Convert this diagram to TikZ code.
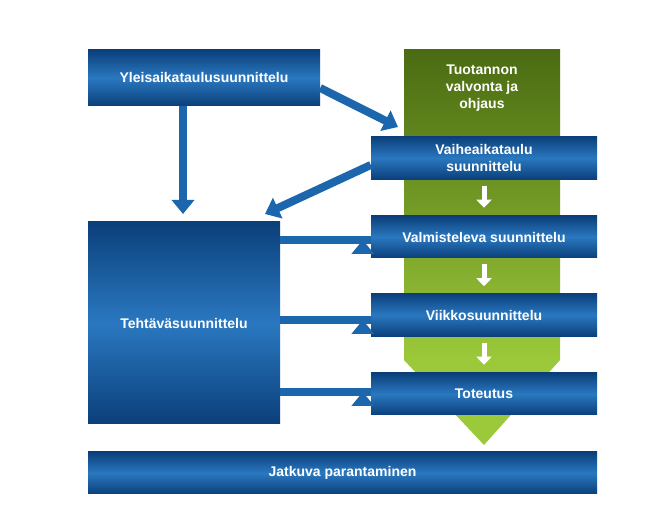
\documentclass[tikz,border=0pt]{standalone}
\usepackage{fontspec}
\setmainfont{Liberation Sans}
\usetikzlibrary{arrows.meta,positioning}
\definecolor{boxdark}{HTML}{0B3F7A}
\definecolor{boxlight}{HTML}{2A78C0}
\definecolor{arrowblue}{HTML}{1C66AE}
\definecolor{greendark}{HTML}{4A6B12}
\definecolor{greenlight}{HTML}{9CC93A}
\tikzset{
  planbox/.style={inner sep=0pt, text=white, align=center,
    font=\fontsize{14}{17}\selectfont\bfseries,
    top color=boxdark, bottom color=boxdark, middle color=boxlight, shading angle=0},
  bigarrow/.style={arrowblue, line width=8pt, -{Triangle[width=22pt,length=14pt]}},
  stepdown/.style={white, line width=5pt, -{Triangle[width=15pt,length=8pt]}}
}
\begin{document}
\begin{tikzpicture}[x=1pt,y=-1pt]
	\useasboundingbox[fill=white] (0,0) rectangle (662,526);
	% green column
	\shade[top color=greendark, bottom color=greenlight] (404,50) -- (560,50) -- (560,360) -- (404,360) -- cycle;
	\fill[greenlight] (404,360) -- (560,360) -- (484,445) -- cycle;
	\node[font=\fontsize{14}{17}\selectfont\bfseries, text=white, align=center] (ctrl) at (482,88) {Tuotannon\\valvonta ja\\ohjaus};
	% boxes
	\node[planbox, minimum width=232pt, minimum height=56pt] (yleis) at (204,78) {Yleisaikataulusuunnittelu};
	\node[planbox, minimum width=226pt, minimum height=43pt] (vaihe) at (484,158) {Vaiheaikataulu\\suunnittelu};
	\node[planbox, minimum width=226pt, minimum height=42pt] (valm) at (484,237) {Valmisteleva suunnittelu};
	\node[planbox, minimum width=226pt, minimum height=43pt] (viikko) at (484,315) {Viikkosuunnittelu};
	\node[planbox, minimum width=226pt, minimum height=42pt] (tot) at (484,394) {Toteutus};
	\node[planbox, minimum width=192pt, minimum height=202pt] (teht) at (184,323) {Tehtäväsuunnittelu};
	\node[planbox, minimum width=509pt, minimum height=42pt] (jatk) at (342.5,473) {Jatkuva parantaminen};
	% connectors
	\coordinate (tehttop) at (183,214);
	\coordinate (tehtright) at (265,214);
	\coordinate (ctrlin) at (398,127);
	\draw[bigarrow] (yleis.south -| tehttop) -- (tehttop);
	\draw[bigarrow] (yleis.east |- 0,88) -- (ctrlin);
	\draw[bigarrow] (vaihe.west |- 0,165) -- (tehtright);
	\foreach \y/\t in {240/valm, 320/viikko, 392/tot}
		\draw[bigarrow] (teht.east |- 0,\y) -- (\t.west |- 0,\y) ++(-8,0);
	\draw[stepdown] (vaihe.south) ++(0,6) -- ++(0,22);
	\draw[stepdown] (valm.south) ++(0,6) -- ++(0,22);
	\draw[stepdown] (viikko.south) ++(0,6) -- ++(0,22);
\end{tikzpicture}
\end{document}
